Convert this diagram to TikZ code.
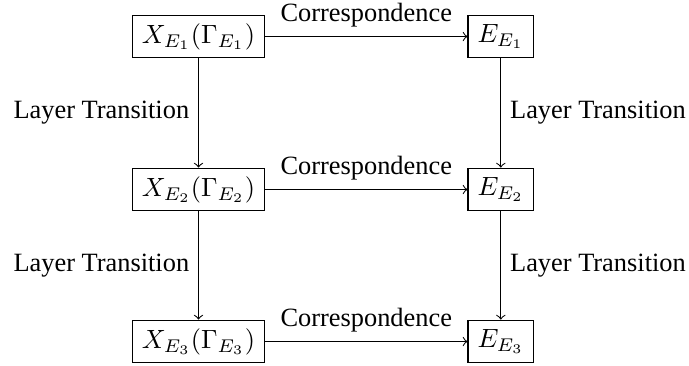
\documentclass[tikz,border=0pt]{standalone}
\usepackage{fontspec}
\setmainfont{Liberation Serif}
\begin{document}
\begin{tikzpicture}[x=0.379pt,y=-0.379pt,
  box/.style={draw,inner xsep=3.6pt,inner ysep=0pt,minimum height=16.2pt,font=\fontsize{10}{12}\selectfont},
  lbl/.style={font=\fontsize{10}{12}\selectfont},
  conn/.style={->}]
\useasboundingbox (0,0) rectangle (689,365);
\node[box] (x1) at (198.5,36.5) {$X_{E_1}(\Gamma_{E_1})$};
\node[box] (x2) at (198.5,189.5) {$X_{E_2}(\Gamma_{E_2})$};
\node[box] (x3) at (198.5,341.5) {$X_{E_3}(\Gamma_{E_3})$};
\node[box] (e1) at (500.8,36.5) {$E_{E_1}$};
\node[box] (e2) at (500.8,189.5) {$E_{E_2}$};
\node[box] (e3) at (500.8,341.5) {$E_{E_3}$};
\draw[conn] (x1) -- node[lbl,above] {Correspondence} (e1);
\draw[conn] (x2) -- node[lbl,above] {Correspondence} (e2);
\draw[conn] (x3) -- node[lbl,above] {Correspondence} (e3);
\draw[conn] (x1) -- node[lbl,left] {Layer Transition} (x2);
\draw[conn] (x2) -- node[lbl,left] {Layer Transition} (x3);
\draw[conn] (e1) -- node[lbl,right] {Layer Transition} (e2);
\draw[conn] (e2) -- node[lbl,right] {Layer Transition} (e3);
\end{tikzpicture}
\end{document}
